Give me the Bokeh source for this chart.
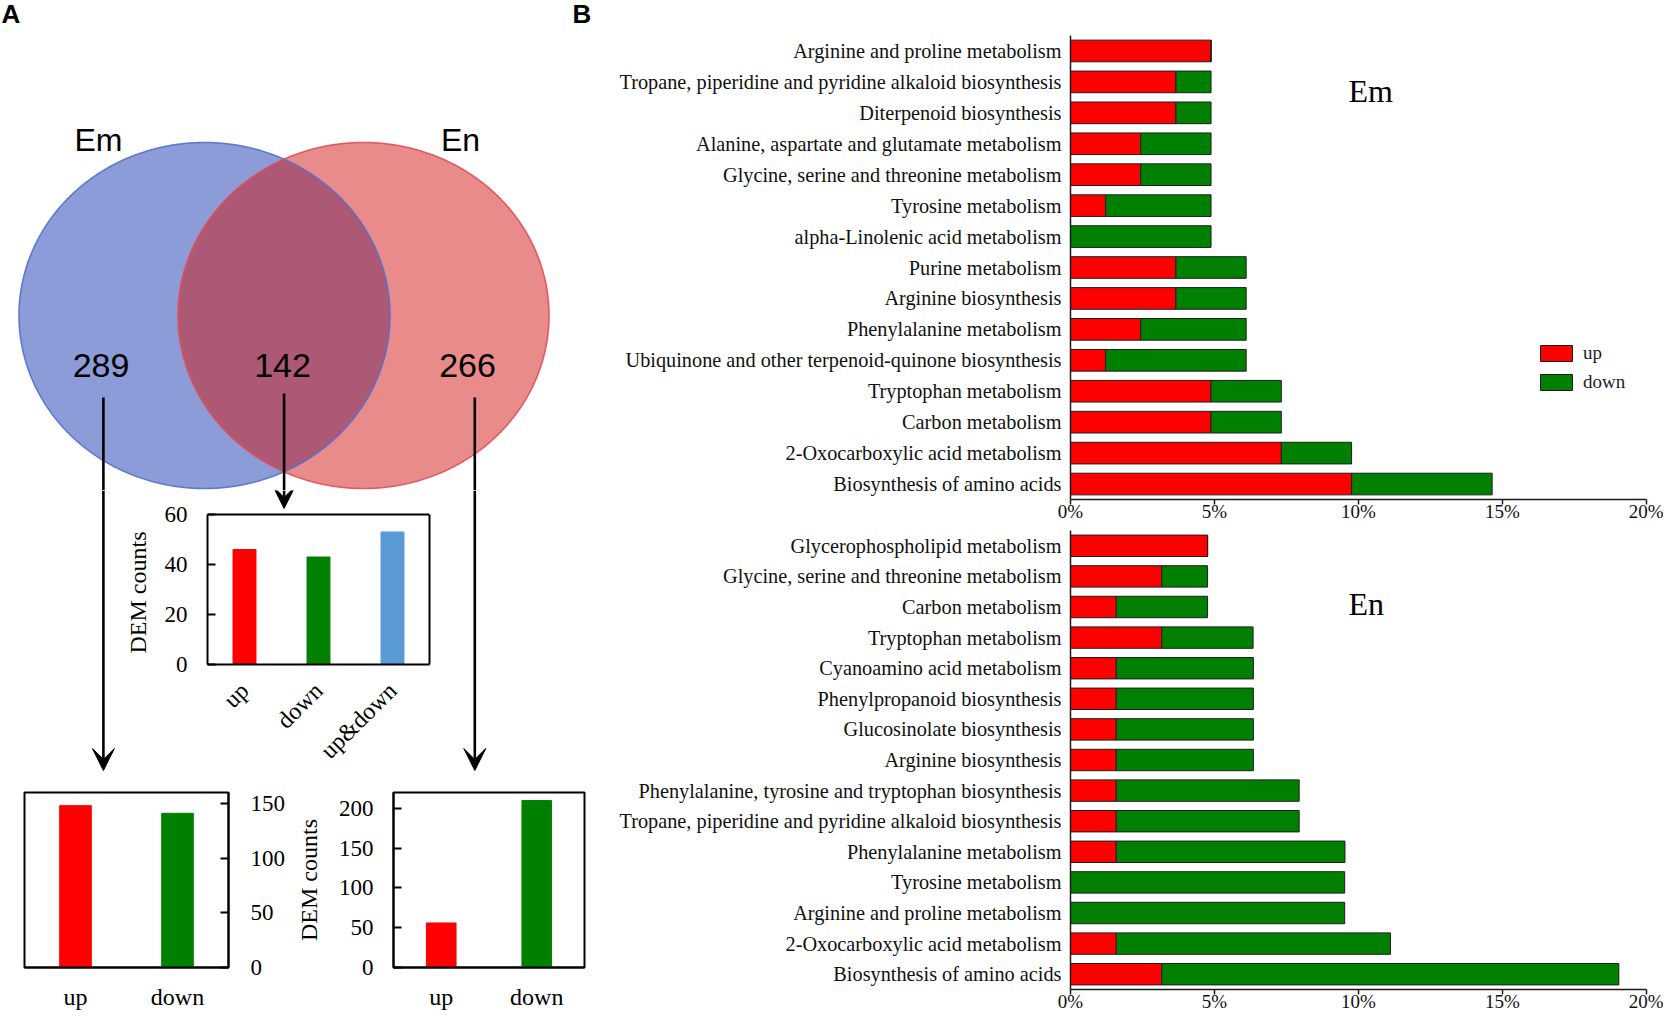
import numpy as np
from bokeh.plotting import figure
from bokeh.models import (Range1d, FactorRange, FixedTicker, PrintfTickFormatter, Label,
                          Legend, LegendItem, Arrow, VeeHead, ColumnDataSource, Span, LinearAxis)
from bokeh.layouts import row, column
from bokeh.embed import file_html
from bokeh.resources import INLINE
from bokeh.core.properties import value

# ---------------- data ----------------
venn_sets = ["Em", "En"]
venn_counts = ["289", "142", "266"]          # Em only, shared, En only

shared_cats = ["up", "down", "up&down"]
shared_counts = [46, 43, 53]
shared_ticks = [0, 20, 40, 60]

only_cats = ["up", "down"]
em_only_counts = [148, 141]
en_only_counts = [56, 210]

em_paths = ["Arginine and proline metabolism",
            "Tropane, piperidine and pyridine alkaloid biosynthesis",
            "Diterpenoid biosynthesis",
            "Alanine, aspartate and glutamate metabolism",
            "Glycine, serine and threonine metabolism",
            "Tyrosine metabolism",
            "alpha-Linolenic acid metabolism",
            "Purine metabolism",
            "Arginine biosynthesis",
            "Phenylalanine metabolism",
            "Ubiquinone and other terpenoid-quinone biosynthesis",
            "Tryptophan metabolism",
            "Carbon metabolism",
            "2-Oxocarboxylic acid metabolism",
            "Biosynthesis of amino acids"]
em_up = [4.88, 3.66, 3.66, 2.44, 2.44, 1.22, 0.0, 3.66, 3.66, 2.44, 1.22, 4.88, 4.88, 7.32, 9.76]
em_down = [0.0, 1.22, 1.22, 2.44, 2.44, 3.66, 4.88, 2.44, 2.44, 3.66, 4.88, 2.44, 2.44, 2.44, 4.88]

en_paths = ["Glycerophospholipid metabolism",
            "Glycine, serine and threonine metabolism",
            "Carbon metabolism",
            "Tryptophan metabolism",
            "Cyanoamino acid metabolism",
            "Phenylpropanoid biosynthesis",
            "Glucosinolate biosynthesis",
            "Arginine biosynthesis",
            "Phenylalanine, tyrosine and tryptophan biosynthesis",
            "Tropane, piperidine and pyridine alkaloid biosynthesis",
            "Phenylalanine metabolism",
            "Tyrosine metabolism",
            "Arginine and proline metabolism",
            "2-Oxocarboxylic acid metabolism",
            "Biosynthesis of amino acids"]
en_up = [4.76, 3.17, 1.59, 3.17, 1.59, 1.59, 1.59, 1.59, 1.59, 1.59, 1.59, 0.0, 0.0, 1.59, 3.17]
en_down = [0.0, 1.59, 3.17, 3.17, 4.76, 4.76, 4.76, 4.76, 6.35, 6.35, 7.94, 9.52, 9.52, 9.52, 15.87]

pct_ticks = [0, 5, 10, 15, 20]

# ---------------- style ----------------
SERIF = "Liberation Serif"
SANS = "Liberation Sans"
RED = "#ff0000"
GREEN = "#008000"
BLUE = "#5b9bd5"

# geometry of the Venn (page pixels)
L_ELL = (204.0, 315.0, 185.5, 173.0)
R_ELL = (363.0, 315.0, 185.5, 173.0)
SPLIT_Y = 490      # boundary between Venn panel and middle row
ROW2_Y = 785       # boundary between middle row and bottom row
ARROW_W = 2.6
HEAD = 22


def no_align(p):
    try:
        p.frame_align = False
    except Exception:
        pass
    return p


def blank(w, h, x0, x1, y0, y1):
    p = figure(width=w, height=h, x_range=Range1d(x0, x1), y_range=Range1d(y1, y0),
               toolbar_location=None, output_backend="svg", min_border=0,
               x_axis_location=None, y_axis_location=None)
    p.outline_line_color = None
    p.grid.grid_line_color = None
    p.background_fill_color = "white"
    p.border_fill_color = "white"
    return no_align(p)


def arrow(p, x, y0, y1, head=True):
    if head:
        p.add_layout(Arrow(end=VeeHead(size=HEAD, fill_color="black", line_color="black", line_width=1),
                           x_start=x, y_start=y0, x_end=x, y_end=y1,
                           line_color="black", line_width=ARROW_W))
    else:
        p.segment(x0=[x], y0=[y0], x1=[x], y1=[y1], line_color="black", line_width=ARROW_W)


# ---------------- Venn ----------------
venn = blank(600, SPLIT_Y, 0, 600, 0, SPLIT_Y)
t = np.linspace(0, 2 * np.pi, 1441)


def ell_pts(e):
    return e[0] + e[2] * np.cos(t), e[1] + e[3] * np.sin(t)


def inside(x, y, e):
    return ((x - e[0]) / e[2]) ** 2 + ((y - e[1]) / e[3]) ** 2 <= 1.0


lx, ly = ell_pts(L_ELL)
rx, ry = ell_pts(R_ELL)
m1 = inside(lx, ly, R_ELL)
m2 = inside(rx, ry, L_ELL)
px = np.r_[lx[m1], rx[m2]]
py = np.r_[ly[m1], ry[m2]]
o = np.argsort(np.arctan2(py - py.mean(), px - px.mean()))

venn.patch(lx, ly, fill_color="#8c9cd8", line_color=None)
venn.patch(rx, ry, fill_color="#e98b8b", line_color=None)
venn.patch(px[o], py[o], fill_color="#ad5874", line_color=None)
venn.line(lx, ly, line_color="#5470cc", line_width=1.6, line_alpha=0.9)
venn.line(rx, ry, line_color="#df4f55", line_width=1.6, line_alpha=0.9)

venn.text(x=[98, 460], y=[139, 139], text=venn_sets, text_font=value(SANS),
          text_font_size="32px", text_align="center", text_baseline="middle", text_color="black")
venn.text(x=[100.5, 282, 467], y=[365, 365, 365], text=venn_counts, text_font=value(SANS),
          text_font_size="34px", text_align="center", text_baseline="middle", text_color="black")
venn.text(x=[1, 572], y=[-2, -2], text=["A", "B"], text_font=value(SANS), text_font_style="bold",
          text_font_size="26px", text_align="left", text_baseline="top", text_color="black")

arrow(venn, 102.9, 397, SPLIT_Y, head=False)
arrow(venn, 474.3, 397, SPLIT_Y, head=False)
arrow(venn, 283.6, 393, SPLIT_Y, head=False)

# fillers with the long arrows
mid_h = ROW2_Y - SPLIT_Y
fill_l = blank(118, mid_h, 0, 118, SPLIT_Y, ROW2_Y)
arrow(fill_l, 102.9, SPLIT_Y, 770)
fill_r = blank(150, mid_h, 450, 600, SPLIT_Y, ROW2_Y)
arrow(fill_r, 474.3, SPLIT_Y, 770)


def style_small(p):
    p.outline_line_color = "black"
    p.outline_line_width = 2
    p.grid.grid_line_color = None
    p.background_fill_color = "white"
    p.border_fill_color = "white"
    for ax in p.axis:
        ax.axis_line_color = "black"
        ax.axis_line_width = 2
        ax.major_label_text_font = SERIF
        ax.major_label_text_font_size = "23px"
        ax.major_label_text_color = "black"
        ax.minor_tick_line_color = None
        ax.axis_label_text_font = SERIF
        ax.axis_label_text_font_size = "24px"
        ax.axis_label_text_font_style = "normal"
        ax.axis_label_text_color = "black"
    p.xaxis.major_tick_line_color = None
    p.xaxis.major_tick_out = 0
    p.xaxis.major_label_text_font_size = "24px"
    p.yaxis.major_tick_in = 8
    p.yaxis.major_tick_out = 0
    p.yaxis.major_tick_line_width = 2
    p.yaxis.major_tick_line_color = "black"
    return no_align(p)


# ---------------- shared (142) chart ----------------
# frame reaches up to the Venn panel so that the arrow head can be drawn inside it;
# the box itself is closed at the top of the value axis (60)
MID_TOP = 514
MID_BOTTOM = 664
px_per_unit = (MID_BOTTOM - MID_TOP) / 60.0
mid_ymax = 60 + (MID_TOP - SPLIT_Y) / px_per_unit
mid = figure(width=332, height=mid_h, x_range=FactorRange(factors=shared_cats, range_padding=0),
             y_range=Range1d(0, mid_ymax), toolbar_location=None, output_backend="svg",
             min_border_left=89, min_border_right=21, min_border_top=0,
             min_border_bottom=ROW2_Y - MID_BOTTOM)
mid.vbar(x=shared_cats, top=shared_counts, width=0.31, color=[RED, GREEN, BLUE])
style_small(mid)
mid.outline_line_color = None
mid.yaxis.bounds = (0, 60)
mid.yaxis.ticker = FixedTicker(ticks=shared_ticks)
mid.yaxis.major_label_standoff = 20
# trailing no-break spaces keep the label centred on the 0-60 box, not on the taller frame
mid.yaxis.axis_label = "DEM counts" + "\u00a0" * 5
mid.yaxis.axis_label_standoff = 11
mid.xaxis.major_label_orientation = np.pi / 4
mid.xaxis.major_label_standoff = 22
mid.add_layout(Span(location=60, dimension="width", line_color="black", line_width=2))
mid.add_layout(LinearAxis(bounds=(0, 60), ticker=FixedTicker(ticks=[]), axis_line_color="black",
                          axis_line_width=2, major_tick_line_color=None,
                          minor_tick_line_color=None), "right")
mid_arrow_x = (283.6 - 207) / 74.0
mid.add_layout(Arrow(end=VeeHead(size=HEAD, fill_color="black", line_color="black", line_width=1),
                     x_start=mid_arrow_x, x_end=mid_arrow_x,
                     y_start=mid_ymax, y_end=60 + (MID_TOP - 508) / px_per_unit,
                     line_color="black", line_width=ARROW_W))

# ---------------- Em only (289) ----------------
bot_h = 1014 - ROW2_Y
bl = figure(width=292, height=bot_h, x_range=FactorRange(factors=only_cats, range_padding=0),
            y_range=Range1d(0, 160), toolbar_location=None, output_backend="svg",
            y_axis_location="right",
            min_border_left=24, min_border_right=64, min_border_top=7, min_border_bottom=bot_h - 182)
bl.vbar(x=only_cats, top=em_only_counts, width=0.31, color=[RED, GREEN])
style_small(bl)
bl.yaxis.ticker = FixedTicker(ticks=[0, 50, 100, 150])
bl.yaxis.major_label_standoff = 22
bl.xaxis.major_label_standoff = 16

# ---------------- En only (266) ----------------
br = figure(width=308, height=bot_h, x_range=FactorRange(factors=only_cats, range_padding=0),
            y_range=Range1d(0, 220), toolbar_location=None, output_backend="svg",
            min_border_left=99, min_border_right=16, min_border_top=7, min_border_bottom=bot_h - 182)
br.vbar(x=only_cats, top=en_only_counts, width=0.31, color=[RED, GREEN])
style_small(br)
br.yaxis.ticker = FixedTicker(ticks=[0, 50, 100, 150, 200])
br.yaxis.major_label_standoff = 20
br.yaxis.axis_label = "DEM counts"
br.yaxis.axis_label_standoff = 14
br.xaxis.major_label_standoff = 16


# ---------------- panel B ----------------
def pathway_chart(paths, up, down, h, top, bottom, tag, tag_y, with_legend):
    p = figure(width=1063, height=h, y_range=FactorRange(factors=paths[::-1], range_padding=0),
               x_range=Range1d(0, 20), toolbar_location=None, output_backend="svg",
               min_border_left=470, min_border_right=17, min_border_top=top, min_border_bottom=bottom)
    src = ColumnDataSource(dict(path=paths, up=up, down=down))
    rs = p.hbar_stack(["up", "down"], y="path", height=0.7, fill_color=[RED, GREEN],
                      line_color="#1e1e1e", line_width=1, source=src)
    p.outline_line_color = None
    p.grid.grid_line_color = None
    p.background_fill_color = "white"
    p.border_fill_color = "white"
    for ax in p.axis:
        ax.axis_line_color = "#1a1a1a"
        ax.axis_line_width = 1.5
        ax.minor_tick_line_color = None
        ax.major_label_text_font = SERIF
        ax.major_label_text_color = "#111111"
    p.yaxis.major_tick_line_color = None
    p.yaxis.major_tick_out = 0
    p.yaxis.major_tick_in = 0
    p.yaxis.major_label_standoff = 9
    p.yaxis.major_label_text_font_size = "20.3px"
    p.xaxis.ticker = FixedTicker(ticks=pct_ticks)
    p.xaxis.formatter = PrintfTickFormatter(format="%d%%")
    p.xaxis.major_tick_out = 5
    p.xaxis.major_tick_in = 0
    p.xaxis.major_tick_line_width = 1.5
    p.xaxis.major_tick_line_color = "#1a1a1a"
    p.xaxis.major_label_text_font_size = "19px"
    p.xaxis.major_label_standoff = -4
    p.add_layout(Label(x=9.65, y=tag_y, text=tag, text_font=SERIF, text_font_size="32px",
                       text_align="left", text_baseline="middle", text_color="black"))
    if with_legend:
        leg = Legend(items=[LegendItem(label="up", renderers=[rs[0]]),
                            LegendItem(label="down", renderers=[rs[1]])],
                     location=(466, 106), orientation="vertical",
                     background_fill_alpha=0, border_line_color=None,
                     padding=0, margin=0, spacing=7, glyph_width=40, glyph_height=20,
                     label_standoff=7, label_text_font=SERIF, label_text_font_size="19px",
                     label_text_color="#222222")
        p.add_layout(leg)
    return no_align(p)


em = pathway_chart(em_paths, em_up, em_down, 530, 35, 31, "Em", 13.22, True)
en = pathway_chart(en_paths, en_up, en_down, 484, 0, 21, "En", 12.6, False)

col_a = column(venn, row(fill_l, mid, fill_r), row(bl, br))
col_b = column(em, en)
root = row(col_a, col_b)

open("out.html", "w").write(file_html(root, INLINE))
